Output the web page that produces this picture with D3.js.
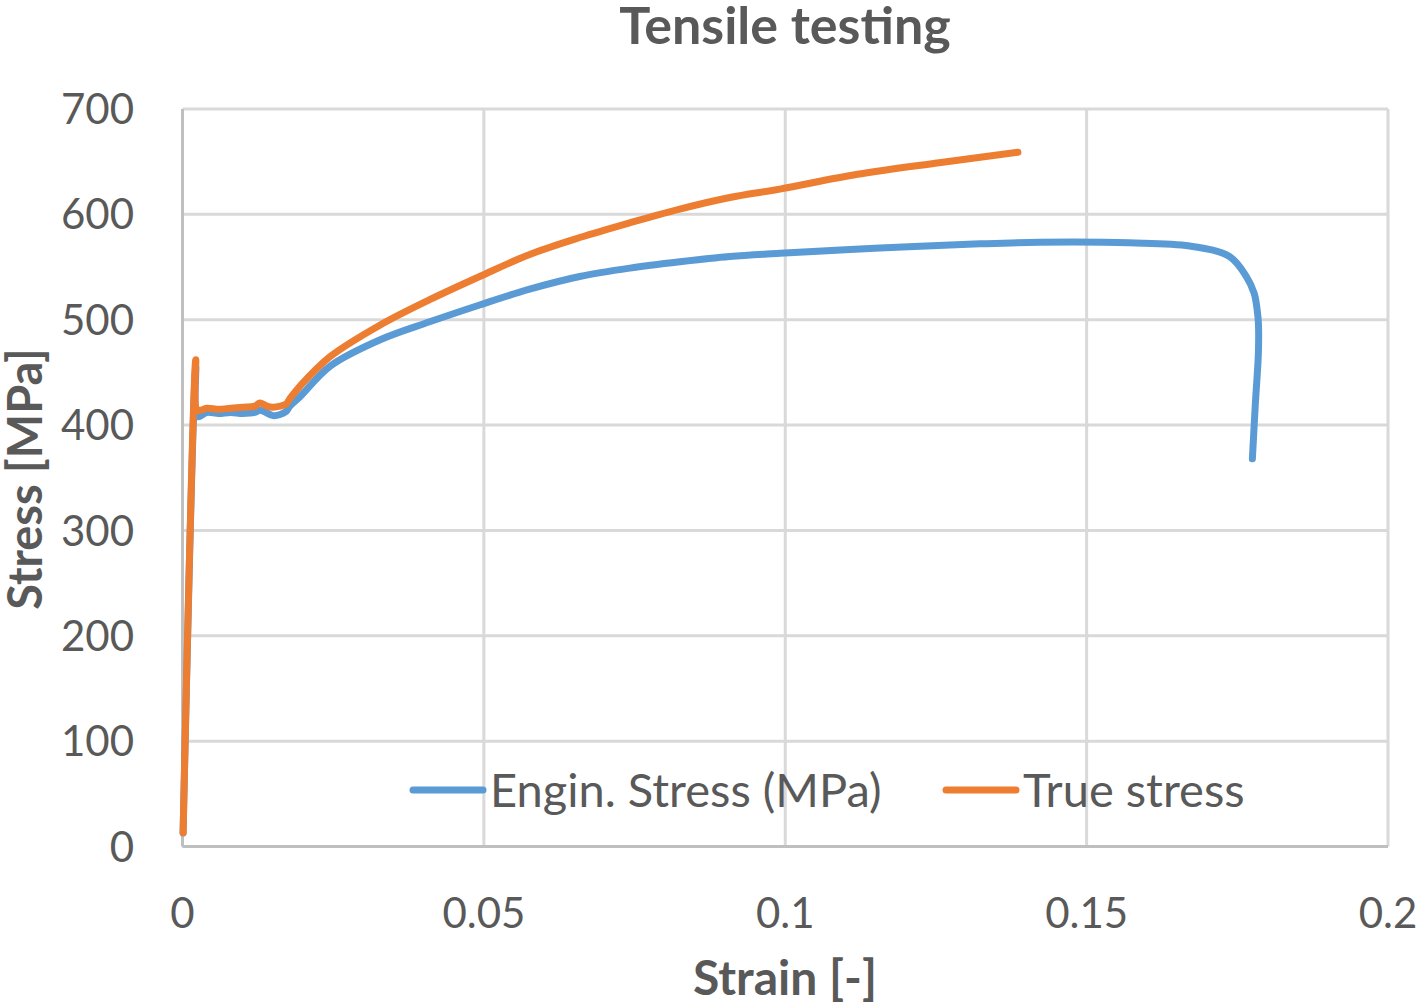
<!DOCTYPE html>
<html><head><meta charset="utf-8">
<script src="https://cdn.jsdelivr.net/npm/d3@7"></script>
<style>html,body{margin:0;padding:0;background:#fff;}svg{display:block;font-family:Lato,"Open Sans",sans-serif;}</style>
</head><body>
<svg id="c" width="1418" height="1008"></svg>
<script>
const title = "Tensile testing";
const xTitle = "Strain [-]";
const yTitle = "Stress [MPa]";
const seriesNames = ["Engin. Stress (MPa)", "True stress"];
const seriesColors = ["#5B9BD5", "#ED7D31"];
const xTicks = [0, 0.05, 0.1, 0.15, 0.2];
const xTickLabels = ["0", "0.05", "0.1", "0.15", "0.2"];
const yTicks = [0, 100, 200, 300, 400, 500, 600, 700];

const engStrain = [0.0001,0.0022,0.0025,0.004,0.006,0.008,0.010,0.012,0.0128,0.0135,0.015,0.0162,0.0172,0.0178,0.0195,0.0245,0.0328,0.041,0.0493,0.0576,0.0659,0.0742,0.0825,0.0908,0.0991,0.1157,0.1323,0.1422,0.1571,0.1671,0.1737,0.1765,0.1778,0.1783,0.1785,0.1785,0.1780,0.1775];
const engStress = [13,455,408,412,411,412,411,412,414,413,409,410,413,418,427,456,481,498,514,529,541,549,555,560,563,568,572,573.5,573,570,560,541,525,509,497,469,421,368];

const trueStrain = [0.0001,0.0022,0.0025,0.004,0.006,0.008,0.010,0.012,0.0128,0.014,0.015,0.0162,0.0172,0.0178,0.0195,0.0245,0.0328,0.041,0.0493,0.0576,0.0659,0.0742,0.0825,0.0908,0.0991,0.112,0.1255,0.1386];
const trueStress = [13,462,414,416,415,416,417,418,421,418,417,418,420,425,437,465,495,519,541,562,578,592,605,616,624,638,649,659];

const svg = d3.select("#c");
const L = 182.5, R = 1388, T = 109, B = 846.5;
const x = d3.scaleLinear().domain([0, 0.2]).range([L, R]);
const y = d3.scaleLinear().domain([0, 700]).range([B, T]);
const txt = "#595959";

// gridlines
const g = svg.append("g");
g.selectAll(".hg").data(yTicks).join("line")
  .attr("x1", L).attr("x2", R).attr("y1", d => y(d)).attr("y2", d => y(d))
  .attr("stroke", "#d9d9d9").attr("stroke-width", 3);
g.selectAll(".vg").data(xTicks).join("line")
  .attr("y1", T).attr("y2", B).attr("x1", d => x(d)).attr("x2", d => x(d))
  .attr("stroke", "#d9d9d9").attr("stroke-width", 3);
g.append("line").attr("x1", L).attr("x2", L).attr("y1", T).attr("y2", B).attr("stroke", "#bfbfbf").attr("stroke-width", 3);
g.append("line").attr("x1", L).attr("x2", R).attr("y1", B).attr("y2", B).attr("stroke", "#bfbfbf").attr("stroke-width", 3);

// tick labels
svg.append("g").selectAll("text").data(yTicks).join("text")
  .attr("x", 134).attr("y", d => y(d)).attr("dy", "0.36em")
  .attr("text-anchor", "end").attr("font-size", 42).attr("fill", txt).text(d => d);
svg.append("g").selectAll("text").data(xTicks).join("text")
  .attr("x", d => x(d)).attr("y", 928)
  .attr("text-anchor", "middle").attr("font-size", 42).attr("fill", txt).text((d, i) => xTickLabels[i]);

// titles
svg.append("text").attr("x", 785).attr("y", 44).attr("text-anchor", "middle")
  .attr("font-size", 52).attr("font-weight", "bold").attr("fill", txt).text(title);
svg.append("text").attr("x", 785).attr("y", 995).attr("text-anchor", "middle")
  .attr("font-size", 48).attr("font-weight", "bold").attr("fill", txt).text(xTitle);
svg.append("text").attr("transform", "translate(42,479) rotate(-90)").attr("text-anchor", "middle")
  .attr("font-size", 47).attr("font-weight", "bold").attr("fill", txt).text(yTitle);

// series
const line = d3.line().x(d => x(d[0])).y(d => y(d[1])).curve(d3.curveCatmullRom.alpha(0.5));
const engData = engStrain.map((s, i) => [s, engStress[i]]);
const trueData = trueStrain.map((s, i) => [s, trueStress[i]]);
[[engData, seriesColors[0]], [trueData, seriesColors[1]]].forEach(([d, c]) => {
  svg.append("path").datum(d).attr("d", line).attr("fill", "none")
    .attr("stroke", c).attr("stroke-width", 7).attr("stroke-linejoin", "round").attr("stroke-linecap", "round");
});

// legend
const leg = [{x1: 413, x2: 483, tx: 490}, {x1: 946, x2: 1016, tx: 1023}];
leg.forEach((l, i) => {
  svg.append("line").attr("x1", l.x1).attr("x2", l.x2).attr("y1", 790).attr("y2", 790)
    .attr("stroke", seriesColors[i]).attr("stroke-width", 7).attr("stroke-linecap", "round");
  svg.append("text").attr("x", l.tx).attr("y", 790).attr("dy", "0.36em")
    .attr("font-size", 47).attr("fill", txt).text(seriesNames[i]);
});
</script>
</body></html>
